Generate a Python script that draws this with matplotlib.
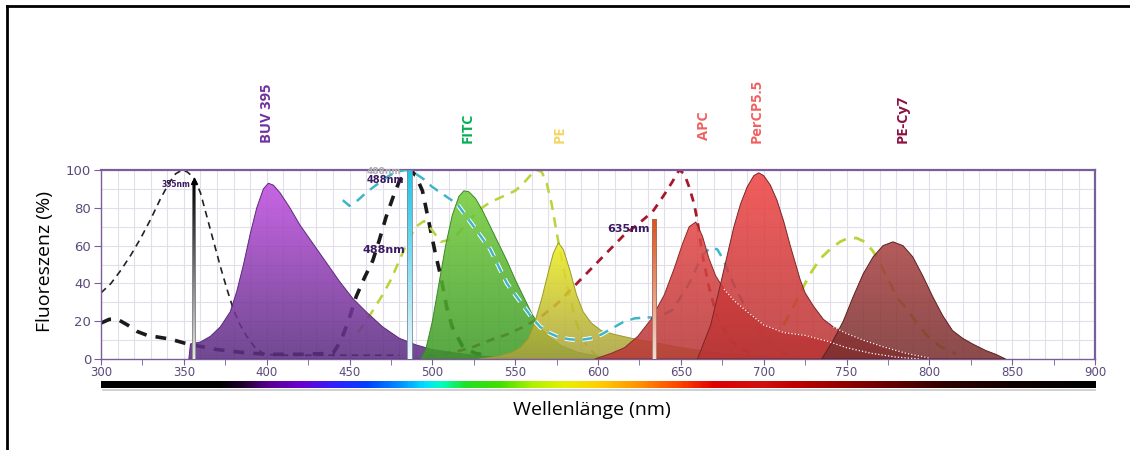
import numpy as np
import matplotlib
matplotlib.use('Agg')
import matplotlib.pyplot as plt
from matplotlib.colors import LinearSegmentedColormap
from matplotlib.patches import Polygon, Rectangle
from matplotlib.lines import Line2D
import matplotlib.patheffects as pe

# emission spectra (filled)
buv_em_x = [353, 354, 360, 366, 372, 378, 382, 386, 390, 394, 398, 401, 404, 408, 414, 420, 428, 436, 444, 452, 460, 470, 480, 490, 500, 515, 530, 545, 558]
buv_em_y = [0, 8, 9, 12, 17, 25, 36, 50, 66, 80, 90, 93, 92, 88, 80, 71, 61, 51, 41, 32, 25, 17, 11, 7.5, 5, 3, 1.5, 0.7, 0]
fitc_em_x = [493, 496, 500, 504, 508, 512, 516, 519, 522, 526, 530, 535, 540, 545, 550, 555, 560, 565, 570, 578, 588, 600, 612]
fitc_em_y = [0, 5, 20, 40, 60, 76, 86, 89, 88.5, 85, 79, 70, 61, 52, 42, 33, 24, 17, 12, 7, 3.5, 1.5, 0]
pe_em_x = [528, 540, 548, 553, 558, 562, 566, 570, 573, 576, 579, 583, 587, 591, 596, 602, 610, 620, 632, 650, 670, 695, 720]
pe_em_y = [0, 1.5, 3.5, 6, 11, 20, 32, 46, 56, 61.5, 58, 47, 34, 25, 19, 15, 13, 11, 9, 6, 3.5, 1.5, 0]
apc_em_x = [598, 608, 616, 624, 632, 640, 646, 651, 655, 659, 663, 667, 671, 676, 682, 690, 700, 712, 725, 738, 750, 765, 780, 795]
apc_em_y = [0, 3, 6, 12, 21, 34, 48, 61, 70, 72.5, 65, 53, 44, 37, 31, 25, 18, 14, 12.5, 9.5, 6, 3, 1, 0]
percp_em_x = [660, 668, 674, 678, 682, 686, 690, 694, 697, 700, 704, 708, 712, 716, 722, 725, 730, 736, 742, 750, 760, 772, 786, 800]
percp_em_y = [0, 18, 40, 55, 70, 82, 91, 97, 98.5, 97, 92, 84, 73, 60, 42, 35, 28, 21, 17, 13.5, 10, 6.5, 3, 0.5]
pecy7_em_x = [735, 742, 748, 754, 760, 766, 772, 778, 784, 790, 796, 802, 808, 814, 820, 826, 834, 840, 846]
pecy7_em_y = [0, 10, 20, 33, 45, 54, 60, 62, 60, 54, 44, 33, 23, 15, 11, 8, 4.5, 2.5, 0]

# excitation spectra (dashed)
buv_ex_x = [300, 306, 312, 318, 324, 330, 336, 341, 345, 349, 352, 356, 360, 364, 368, 372, 376, 380, 384, 388, 393, 398, 405, 420, 440, 460, 480]
buv_ex_y = [35, 40, 47, 55, 64, 74, 85, 93, 98, 100, 99, 96, 88, 75, 62, 49, 37, 26, 18, 12, 6, 3, 2, 2, 2, 2, 2]
fitc_ex_x = [300, 305, 310, 316, 322, 328, 335, 342, 350, 358, 370, 385, 400, 420, 440, 445, 450, 454, 459, 464, 468, 472, 476, 480, 484, 487, 490, 494, 498, 502, 505, 509, 512, 515, 518, 521, 526, 532]
fitc_ex_y = [19, 21, 21, 18, 14.5, 12.5, 11.5, 10.5, 8.5, 7, 5, 3.5, 2.5, 2.5, 3, 10, 22, 33, 43, 52, 63, 75, 85, 94, 99, 100, 97, 89, 72, 55, 44, 26, 17, 12, 7, 5, 3, 2]
pe_ex_x = [455, 460, 465, 470, 475, 480, 485, 490, 495, 500, 505, 510, 515, 520, 525, 530, 535, 540, 545, 550, 555, 560, 563, 566, 569, 572, 575, 578, 581, 584, 587, 590, 594, 599]
pe_ex_y = [14, 20, 27, 34, 42, 52, 62, 70, 73, 68, 62, 63, 66, 71, 76, 80, 83, 85, 87, 89, 93, 98, 100, 99, 93, 82, 67, 53, 40, 29, 19, 12, 6, 2]
apc_ex_x = [497, 505, 515, 525, 535, 545, 555, 565, 575, 585, 595, 605, 615, 625, 633, 640, 645, 649, 652, 655, 658, 660, 663, 667, 670, 674, 681, 688, 695]
apc_ex_y = [1.5, 2.5, 4, 6.5, 10, 13, 17, 22, 29, 38, 47, 56, 65, 72, 78, 87, 94, 100, 98, 91, 82, 73, 55, 38, 28, 18, 9, 4.5, 2.5]
percp_ex_x = [446, 450, 455, 460, 466, 472, 478, 484, 490, 495, 500, 505, 510, 515, 520, 525, 530, 535, 540, 545, 550, 555, 560, 565, 570, 575, 582, 589, 596, 602, 608, 615, 622, 630, 636, 645, 655, 663, 668, 672, 676, 680, 685, 690, 695, 700, 706, 712, 720]
percp_ex_y = [84, 81, 84, 88, 92, 96, 99, 100, 98, 95, 91, 88, 85, 82, 76, 70, 64, 58, 49, 40, 34, 28, 22, 17, 14, 12, 10.5, 10, 11, 13, 16, 19.5, 21.5, 22, 22, 26, 40, 55, 59, 58, 52, 43, 34, 26, 19, 13, 7, 3, 1]
pecy7_ex_x = [712, 717, 722, 728, 734, 740, 746, 751, 756, 761, 766, 770, 774, 778, 782, 786, 790, 795, 800, 806, 812, 816]
pecy7_ex_y = [18, 26, 35, 45, 53, 58, 62, 64, 64, 62, 57, 51, 44, 37, 31, 27, 22, 16, 11, 7, 4, 3]

# dye names over the plot
dye_names = ['BUV 395', 'FITC', 'PE', 'APC', 'PerCP5.5', 'PE-Cy7']
dye_pos = [400, 521, 577, 664, 696, 784]
dye_colors = ['#7030a0', '#00b050', '#f5d560', '#f06060', '#f06060', '#8b1040']

# lasers
laser_nm = [355, 488, 635]
laser_top = [94, 100, 74]


def grad_fill(ax, x, y, top, bottom, z, alpha=0.87, edge='none'):
    x = np.asarray(x, float)
    y = np.asarray(y, float)
    verts = np.column_stack([np.r_[x[0], x, x[-1]], np.r_[0, y, 0]])
    poly = Polygon(verts, closed=True, facecolor='none', edgecolor=edge, lw=0.7, zorder=z + 0.1)
    ax.add_patch(poly)
    cmap = LinearSegmentedColormap.from_list('g', [bottom, top])
    im = ax.imshow(np.linspace(0, 1, 256).reshape(-1, 1), cmap=cmap,
                   extent=[x.min(), x.max(), 0, y.max()], origin='lower',
                   aspect='auto', alpha=alpha, zorder=z, interpolation='bicubic')
    im.set_clip_path(poly)


def laser(ax, x0, w, top, ctop, cbot, edge, z=8):
    rect = Rectangle((x0, 0), w, top, facecolor='none', edgecolor=edge, lw=0.6, zorder=z + 0.1)
    ax.add_patch(rect)
    cmap = LinearSegmentedColormap.from_list('l', [cbot, ctop])
    im = ax.imshow(np.linspace(0, 1, 256).reshape(-1, 1), cmap=cmap,
                   extent=[x0, x0 + w, 0, top], origin='lower', aspect='auto', zorder=z)
    im.set_clip_path(rect)


fig = plt.figure(figsize=(11.3, 4.5), dpi=100)
ax = fig.add_axes([0.0894, 0.2022, 0.8797, 0.42])

purple = '#7b5c9c'
# grid
ax.vlines(np.arange(310, 900, 10), 0, 100, color='#e2deec', lw=0.8, zorder=0)
ax.hlines(np.arange(10, 100, 10), 300, 900, color='#e2deec', lw=0.8, zorder=0)

# dashed excitation curves (under the fills)
ax.plot(buv_ex_x, buv_ex_y, color='#222222', lw=1.2, dashes=(4, 3), zorder=1)
ax.plot(fitc_ex_x, fitc_ex_y, color='#1a1a1a', lw=2.6, dashes=(3, 2.5), zorder=1)
ax.plot(pe_ex_x, pe_ex_y, color='#b8d438', lw=1.8, dashes=(4, 3), zorder=1)
ax.plot(apc_ex_x, apc_ex_y, color='#a8182c', lw=2.0, dashes=(3, 2.5), zorder=1)
ax.plot(pecy7_ex_x, pecy7_ex_y, color='#b8d438', lw=2.0, dashes=(4, 3), zorder=1)
ax.plot(percp_ex_x, percp_ex_y, color='#3fb6c6', lw=1.8, dashes=(4, 3), zorder=1)

# emission fills
grad_fill(ax, buv_em_x, buv_em_y, '#c04ee0', '#5a2d80', 2, edge='#5a2a78')
grad_fill(ax, fitc_em_x, fitc_em_y, '#74cc3c', '#3e9a28', 2.2, edge='#3a8a25')
grad_fill(ax, pe_em_x, pe_em_y, '#eeee22', '#a8a040', 2.4, edge='#9a9a30')
grad_fill(ax, apc_em_x, apc_em_y, '#e44848', '#b83838', 2.6, edge='#8a2a2a')
grad_fill(ax, percp_em_x, percp_em_y, '#f04444', '#b83535', 2.8, edge='#7a2525')
grad_fill(ax, pecy7_em_x, pecy7_em_y, '#aa4242', '#7a3030', 3.0, edge='#5a2020')

# tails of APC and PerCP showing through as white dotted edges
ax.plot(apc_em_x[13:], apc_em_y[13:], color='white', lw=0.9, ls=':', zorder=3.5)
ax.plot(percp_em_x[18:], percp_em_y[18:], color='white', lw=0.9, ls=':', zorder=3.5)

# cyan excitation over the green/yellow part, white rim
n_top = 34
ax.plot(percp_ex_x[:n_top], percp_ex_y[:n_top], color='#3fb6c6', lw=1.8, dashes=(4, 3), zorder=4,
        path_effects=[pe.Stroke(linewidth=3.2, foreground='white'), pe.Normal()])

# laser lines
laser(ax, 355, 2, laser_top[0], '#000000', '#e8e8e8', '#888888')
ax.plot([356], [laser_top[0]], marker='^', color='black', ms=4, zorder=9)
laser(ax, 484.5, 3, laser_top[1], '#1ec4e6', '#eef8fc', '#7a8a9a')
laser(ax, 632.5, 2.5, laser_top[2], '#e0501a', '#f4dcd4', '#a07060')

lab = dict(color='#3a1a60', fontweight='bold', ha='right', zorder=10,
           family=['Liberation Sans Narrow', 'DejaVu Sans'])
ax.text(354, 91, '355nm', fontsize=5.5, **lab)
ax.text(481, 98, '488nm', fontsize=6.5, color='#b0b0b0', fontweight='bold', ha='right',
        zorder=9, family=['Liberation Sans Narrow', 'DejaVu Sans'])
ax.text(483, 93, '488nm', fontsize=7, **lab)
ax.text(483.5, 56, '488nm', fontsize=8, **lab)
ax.text(631, 67, '635nm', fontsize=8, **lab)

# dye labels
for name, xpos, c in zip(dye_names, dye_pos, dye_colors):
    yb = 116 if name == 'APC' else 114.3
    ax.text(xpos, yb, name, rotation=90, ha='center', va='bottom', color=c,
            fontsize=10.5, fontweight='bold', family='Open Sans', clip_on=False)

# spectrum bar under the axis
spec_nm = [300, 370, 385, 400, 420, 440, 460, 480, 495, 505, 520, 540, 560, 580, 600, 625, 650, 670, 700, 720, 750, 780, 810, 850, 900]
spec_col = ['#000000', '#000000', '#200030', '#5a0090', '#6a00d0', '#3020ff', '#0040ff', '#0090ff', '#00e0ff',
            '#00ffc0', '#20e020', '#40e000', '#b0f000', '#e8f000', '#ffd000', '#ff9000', '#ff4000', '#e00000',
            '#d01010', '#c00000', '#900000', '#600000', '#300000', '#100000', '#000000']
spec_cmap = LinearSegmentedColormap.from_list('spec', list(zip([(v - 300) / 600 for v in spec_nm], spec_col)))
ax.imshow(np.linspace(0, 1, 600).reshape(1, -1), cmap=spec_cmap, extent=[300, 900, -15.2, -11.8],
          aspect='auto', clip_on=False, zorder=5)
ax.plot([301, 900], [-16.2, -16.2], color='#c8c8c8', lw=1.2, clip_on=False, zorder=4)

ax.set_xlim(300, 900)
ax.set_ylim(0, 100)
ax.set_xticks(np.arange(300, 901, 50))
ax.set_xticks(np.arange(325, 900, 50), minor=True)
ax.set_yticks(np.arange(0, 101, 20))
ax.tick_params(axis='x', which='both', length=4, color=purple, labelcolor='#5a4a7a', labelsize=8.5, pad=1)
ax.tick_params(axis='y', length=5, color=purple, labelcolor='#5a4a7a', labelsize=9.5, pad=2)
for lbl in ax.get_xticklabels():
    lbl.set_family(['Liberation Sans Narrow', 'DejaVu Sans'])
for s in ['top', 'right']:
    ax.spines[s].set_color(purple)
    ax.spines[s].set_linewidth(1.6)
for s in ['left', 'bottom']:
    ax.spines[s].set_color(purple)
    ax.spines[s].set_linewidth(1.0)

fig.text(45 / 1130, 1 - 262 / 450, 'Fluoreszenz (%)', rotation=90, ha='center', va='center',
         fontsize=14, family='Open Sans')
fig.text(592 / 1130, 1 - 410 / 450, 'Wellenlänge (nm)', ha='center', va='center',
         fontsize=14, family='Open Sans')

# frame of the screenshot
fig.add_artist(Line2D([0.0058, 1.0], [0.9856, 0.9856], color='black', lw=2, transform=fig.transFigure))
fig.add_artist(Line2D([0.0058, 0.0058], [0.0, 0.9856], color='black', lw=2, transform=fig.transFigure))

fig.savefig('out.png', dpi=100)
